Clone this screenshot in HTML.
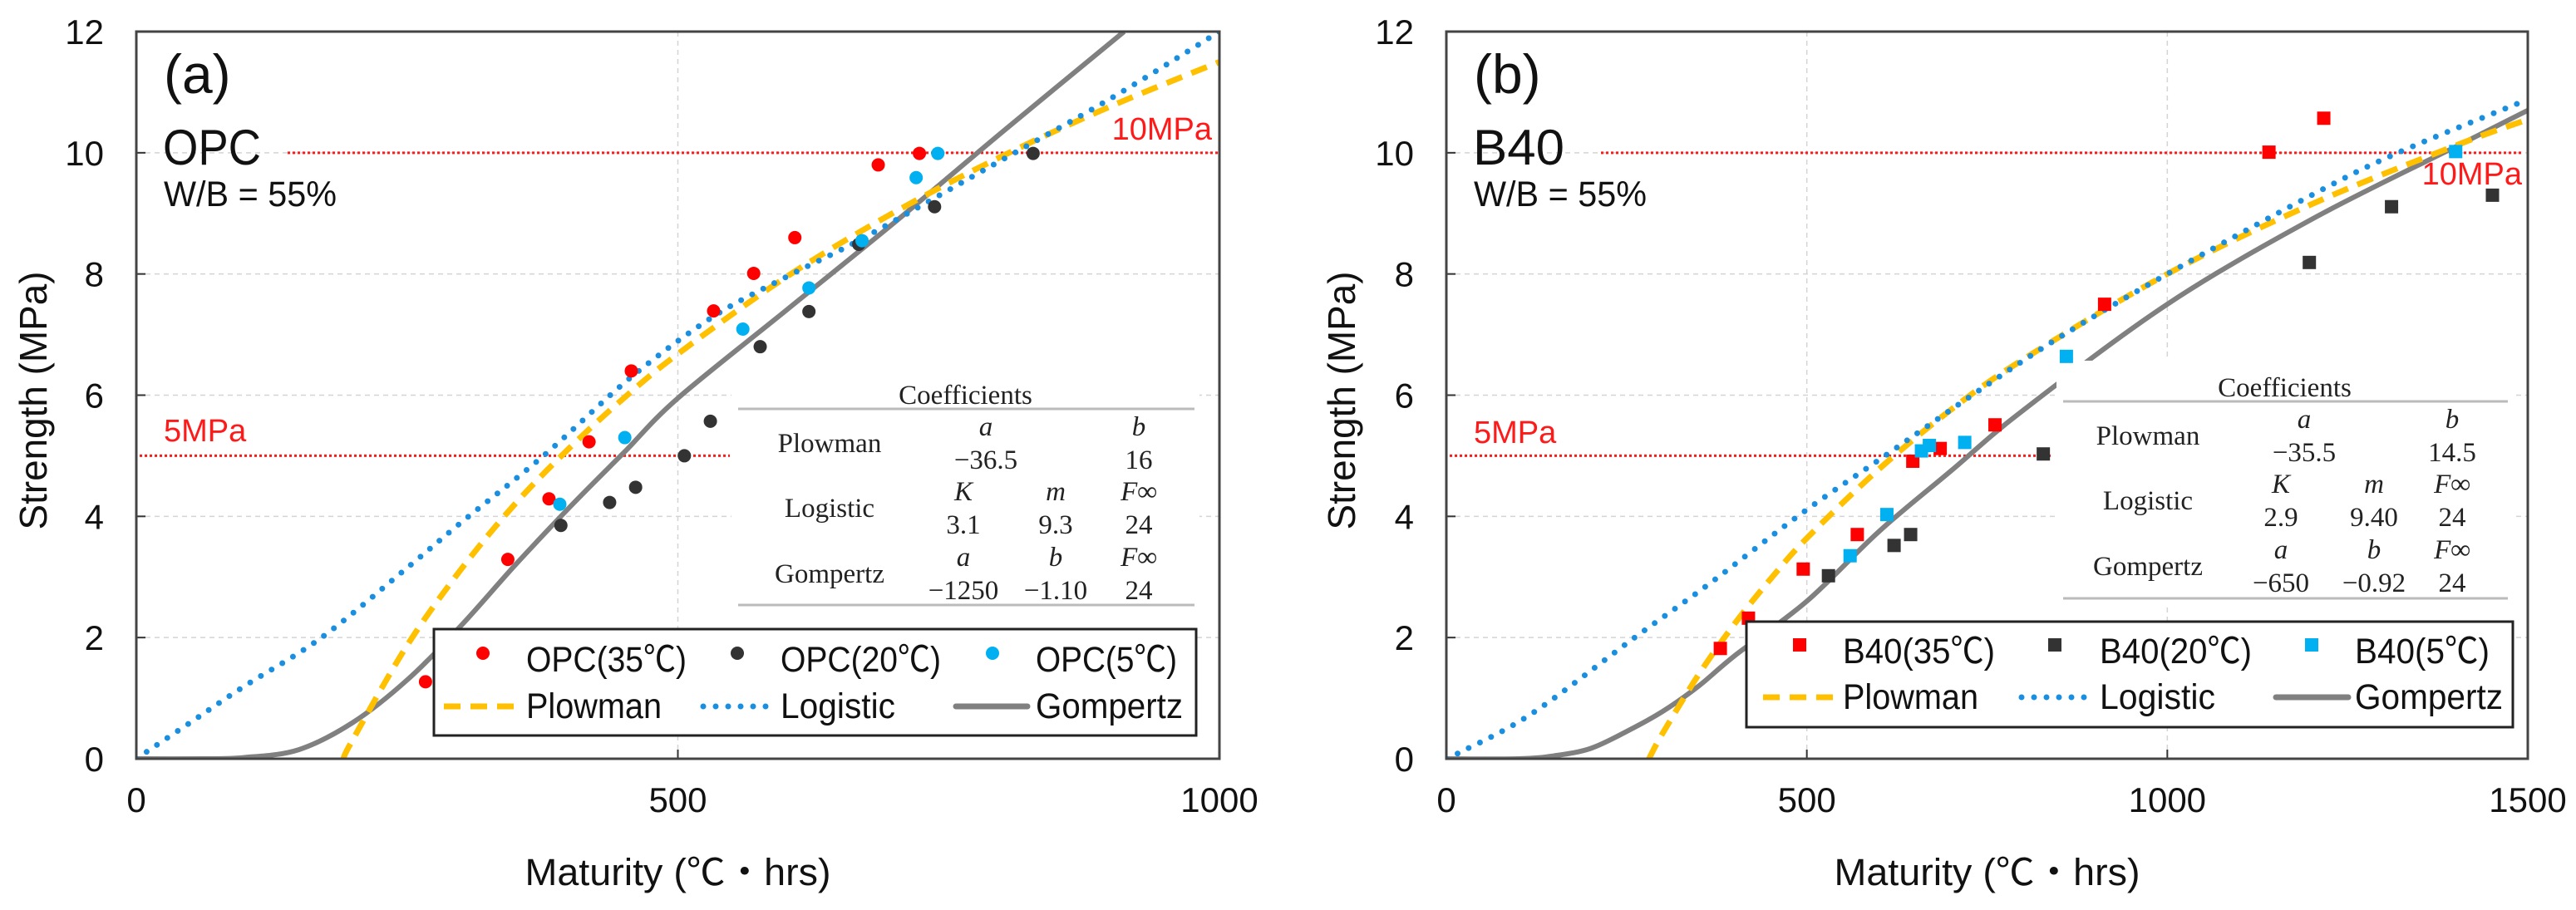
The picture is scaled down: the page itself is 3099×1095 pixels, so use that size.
<!DOCTYPE html>
<html><head><meta charset="utf-8"><title>Strength vs Maturity</title>
<style>
html,body{margin:0;padding:0;background:#fff;}
svg{display:block;}
text{font-family:"Liberation Sans","Noto Sans CJK KR",sans-serif;}
.serif{font-family:"Liberation Serif","Noto Serif CJK SC",serif;}
</style></head>
<body>
<svg id="fig" xmlns="http://www.w3.org/2000/svg" width="3099" height="1095" viewBox="0 0 3099 1095"></svg>
<script>
// ---------- Panel (a) OPC data ----------
const aRed35M = [267,343,381,418,457,533,570,608,685,723];
const aRed35S = [1.27,3.29,4.29,5.23,6.40,7.39,8.01,8.60,9.80,9.99];
const aBlk20M = [392,437,461,506,530,576,621,667,737,828];
const aBlk20S = [3.85,4.23,4.48,5.00,5.57,6.80,7.38,8.49,9.11,9.99];
const aBlu5M = [391,451,560,621,670,720,740];
const aBlu5S = [4.20,5.30,7.09,7.77,8.55,9.59,9.99];
const aPlowM = [191,200,250,300,350,400,450,500,600,700,800,900,1000];
const aPlowS = [0,0.32,1.87,3.13,4.21,5.13,5.95,6.68,7.95,9.02,9.95,10.77,11.5];
const aLogM = [0,50,100,171,250,300,376,457,533,600,672,786,900,1000];
const aLogS = [0,0.6,1.2,2.0,3.15,3.9,5.0,6.3,7.3,7.95,8.6,9.75,10.9,12.0];
const aGomM = [0,60,100,150,200,250,300,350,400,450,500,600,700,800,912];
const aGomS = [0,0,0.02,0.15,0.6,1.3,2.2,3.2,4.15,5.05,5.95,7.4,8.85,10.35,12.0];
// ---------- Panel (b) B40 data ----------
const bRed35M = [380,419,495,570,647,685,761,913,1141,1217];
const bRed35S = [1.82,2.32,3.13,3.70,4.91,5.12,5.51,7.50,10.01,10.57];
const bBlk20M = [530,621,644,828,1197,1311,1451];
const bBlk20S = [3.02,3.52,3.70,5.03,8.19,9.11,9.30];
const bBlu5M = [560,611,659,670,719,860,1400];
const bBlu5S = [3.35,4.03,5.08,5.17,5.22,6.64,10.02];
const bPlowM = [281,300,350,400,450,500,600,700,800,1000,1200,1400,1500];
const bPlowS = [0,0.42,1.39,2.23,2.97,3.64,4.78,5.76,6.59,8.0,9.15,10.12,10.55];
const bLogM = [0,18,118,259,365,494,606,733,850,1000,1200,1320,1500];
const bLogS = [0,0.1,0.74,1.98,2.89,4.06,4.98,6.03,6.95,8.0,9.3,10.0,10.88];
const bGomM = [0,100,150,200,250,300,350,400,500,600,700,800,1000,1200,1400,1500];
const bGomS = [0,0,0.05,0.17,0.45,0.78,1.2,1.7,2.6,3.75,4.75,5.75,7.5,8.9,10.1,10.7];
// ---------- tick labels ----------
const yTicks = [0,2,4,6,8,10,12];
const aXTicks = [0,500,1000];
const bXTicks = [0,500,1000,1500];
const aCoef = {plow:["−36.5","16"], log:["3.1","9.3","24"], gom:["−1250","−1.10","24"]};
const bCoef = {plow:["−35.5","14.5"], log:["2.9","9.40","24"], gom:["−650","−0.92","24"]};

const NS = "http://www.w3.org/2000/svg";
const svg = document.getElementById('fig');
function mk(tag, attrs, parent){
  const e = document.createElementNS(NS, tag);
  for (const k in attrs) e.setAttribute(k, attrs[k]);
  (parent||svg).appendChild(e);
  return e;
}
function txt(str, attrs, parent){ const t = mk('text', attrs, parent); t.textContent = str; return t; }
function smooth(pts){
  let d = 'M'+pts[0][0].toFixed(1)+','+pts[0][1].toFixed(1);
  for (let i=0;i<pts.length-1;i++){
    const p0 = pts[Math.max(i-1,0)], p1 = pts[i], p2 = pts[i+1], p3 = pts[Math.min(i+2,pts.length-1)];
    const c1x = p1[0]+(p2[0]-p0[0])/6, c1y = p1[1]+(p2[1]-p0[1])/6;
    const c2x = p2[0]-(p3[0]-p1[0])/6, c2y = p2[1]-(p3[1]-p1[1])/6;
    d += ` C${c1x.toFixed(1)},${c1y.toFixed(1)} ${c2x.toFixed(1)},${c2y.toFixed(1)} ${p2[0].toFixed(1)},${p2[1].toFixed(1)}`;
  }
  return d;
}

function panel(cfg){
  const g = mk('g', {});
  
  
  const L=cfg.left, R=cfg.right, T=38, B=913;
  const X = m => L + (m/cfg.xmax)*(R-L);
  const Y = s => B - (s/12)*(B-T);
  const grid = mk('g', {stroke:'#d4d4d4','stroke-width':1.5,'stroke-dasharray':'6 5'}, g);
  
  
  yTicks.slice(1,-1).forEach(v=>{ mk('line',{x1:L,x2:R,y1:Y(v),y2:Y(v)},grid); });
  cfg.xticks.slice(1,-1).forEach(v=>{ mk('line',{x1:X(v),x2:X(v),y1:T,y2:B},grid); });
  yTicks.forEach(v=>{
    const t = txt(String(v), {x:L-39, y:Y(v)+15, 'font-size':42, 'text-anchor':'end', fill:'#111'}, g);
    
    
    mk('line',{x1:L,x2:L+11,y1:Y(v),y2:Y(v),stroke:'#333','stroke-width':2},g);
  });
  cfg.xticks.forEach(v=>{
    const t = txt(String(v), {x:X(v), y:977, 'font-size':42, 'text-anchor':'middle', fill:'#111'}, g);
    
    
    mk('line',{x1:X(v),x2:X(v),y1:B,y2:B-11,stroke:'#333','stroke-width':2},g);
  });
  const xt = txt('Maturity (℃・hrs)', {x:(L+R)/2, y:1065, 'font-size':45, 'text-anchor':'middle', fill:'#111', textLength:368, lengthAdjust:'spacingAndGlyphs'}, g);
  
  
  const yc = cfg.ytitleX;
  const yt = txt('Strength (MPa)', {x:0, y:0, 'font-size':46, 'text-anchor':'middle', fill:'#111', textLength:311, lengthAdjust:'spacingAndGlyphs', transform:`translate(${yc+16},482) rotate(-90)`}, g);
  
  
  const r10 = mk('line',{x1:cfg.r10x1,x2:cfg.r10x2,y1:Y(10),y2:Y(10),stroke:'#ff1a1a','stroke-width':3,'stroke-dasharray':'3 3'},g);
  
  
  const r5 = mk('line',{x1:L+4,x2:cfg.r5x2,y1:Y(5),y2:Y(5),stroke:'#ff1a1a','stroke-width':3,'stroke-dasharray':'3 3'},g);
  
  
  const l10 = txt('10MPa', {x:cfg.l10x, y:cfg.l10y, 'font-size':38, 'text-anchor':'end', fill:'#ff1a1a'}, g);
  
  
  const l5 = txt('5MPa', {x:L+33, y:cfg.l5y, 'font-size':38, fill:'#ff1a1a'}, g);
  
  
  const clipId = 'clip-'+cfg.id;
  const cp = mk('clipPath',{id:clipId},g);
  mk('rect',{x:L,y:T,width:R-L,height:B-T},cp);
  const path = (M,S) => smooth(M.map((m,i)=>[X(m),Y(S[i])]));
  const gom = mk('path',{d:path(cfg.gomM,cfg.gomS),fill:'none',stroke:'#808080','stroke-width':6,'stroke-linejoin':'round','clip-path':`url(#${clipId})`},g);
  
  
  const plo = mk('path',{d:path(cfg.plowM,cfg.plowS),fill:'none',stroke:'#ffc000','stroke-width':7,'stroke-dasharray':'20 12','clip-path':`url(#${clipId})`},g);
  
  
  const lgc = mk('path',{d:path(cfg.logM,cfg.logS),fill:'none',stroke:'#1a8fe0','stroke-width':7,'stroke-dasharray':'0 15','stroke-linecap':'round','clip-path':`url(#${clipId})`},g);
  
  
  const tb = cfg.tab;
  const tg = mk('g',{},g);
  
  
  mk('rect',{x:tb.x1,y:tb.top,width:tb.x2-tb.x1,height:tb.bot-tb.top,fill:'#fff'},tg);
  const cell = (s,x,y,it) => txt(s,{x:x,y:y,'font-size':33,'text-anchor':'middle',fill:'#222','class':'serif','font-style':it?'italic':'normal'},tg);
  cell('Coefficients', (tb.x1+tb.x2)/2, tb.titleY);
  mk('line',{x1:tb.x1+8,x2:tb.x2-6,y1:tb.titleY+6,y2:tb.titleY+6,stroke:'#bbb','stroke-width':3},tg);
  mk('line',{x1:tb.x1+8,x2:tb.x2-6,y1:tb.bottomLine,y2:tb.bottomLine,stroke:'#bbb','stroke-width':3},tg);
  const r0 = tb.titleY + 38;
  cell('Plowman', tb.lab, r0+20); cell('a', tb.c2a, r0, true); cell('b', tb.c3, r0, true);
  cell(cfg.coef.plow[0], tb.c2a, r0+40); cell(cfg.coef.plow[1], tb.c3, r0+40);
  const r1 = r0 + 78;
  cell('Logistic', tb.lab, r1+20); cell('K', tb.c1, r1, true); cell('m', tb.c2, r1, true); cell('F∞', tb.c3, r1, true);
  cell(cfg.coef.log[0], tb.c1, r1+40); cell(cfg.coef.log[1], tb.c2, r1+40); cell(cfg.coef.log[2], tb.c3, r1+40);
  const r2 = r1 + 79;
  cell('Gompertz', tb.lab, r2+20); cell('a', tb.c1, r2, true); cell('b', tb.c2, r2, true); cell('F∞', tb.c3, r2, true);
  cell(cfg.coef.gom[0], tb.c1, r2+40); cell(cfg.coef.gom[1], tb.c2, r2+40); cell(cfg.coef.gom[2], tb.c3, r2+40);
  const series = [[cfg.redM,cfg.redS,'#ff0000','35'],[cfg.blkM,cfg.blkS,'#333333','20'],[cfg.bluM,cfg.bluS,'#00b0f0','5']];
  series.forEach(([M,S,col,tag])=>{
    const sg = mk('g',{fill:col},g);
    
    
    M.forEach((m,i)=>{
      let e;
      if (cfg.square) e = mk('rect',{x:X(m)-8,y:Y(S[i])-8,width:16,height:16},sg);
      else e = mk('circle',{cx:X(m),cy:Y(S[i]),r:8},sg);
      
      
    });
  });
  const fr = mk('rect',{x:L,y:T,width:R-L,height:B-T,fill:'none',stroke:'#444','stroke-width':3},g);
  
  
  const pl = txt(cfg.tag, {x:L+33, y:112, 'font-size':66, fill:'#111'}, g);
  
  
  const nm = txt(cfg.name, {x:L+32, y:198, 'font-size':60, fill:'#111', textLength:cfg.nameW, lengthAdjust:'spacingAndGlyphs'}, g);
  
  
  const wb = txt('W/B = 55%', {x:L+33, y:248, 'font-size':43, fill:'#111', textLength:208, lengthAdjust:'spacingAndGlyphs'}, g);
  
  
  const lg = cfg.leg;
  const legG = mk('g',{},g);
  
  
  mk('rect',{x:lg.x1,y:lg.y1,width:lg.x2-lg.x1,height:lg.y2-lg.y1,fill:'#fff',stroke:'#222','stroke-width':3},legG);
  const cols = [['#ff0000',cfg.name+'(35℃)'],['#333333',cfg.name+'(20℃)'],['#00b0f0',cfg.name+'(5℃)']];
  cols.forEach(([col,lab],i)=>{
    const mx = lg.mx[i];
    let e;
    if (cfg.square) e = mk('rect',{x:mx-8,y:lg.r1-30,width:16,height:16,fill:col},legG);
    else e = mk('circle',{cx:mx,cy:lg.r1-22,r:8,fill:col},legG);
    
    
    const t = txt(lab,{x:lg.tx[i],y:lg.r1,'font-size':43,fill:'#111',textLength:lg.w1[i],lengthAdjust:'spacingAndGlyphs'},legG);
    
    
  });
  const styles = [{stroke:'#ffc000','stroke-width':7,'stroke-dasharray':'20 12'},{stroke:'#1a8fe0','stroke-width':7,'stroke-dasharray':'0 15','stroke-linecap':'round'},{stroke:'#808080','stroke-width':7,'stroke-linecap':'round'}];
  ['Plowman','Logistic','Gompertz'].forEach((lab,i)=>{
    const st = Object.assign({x1:lg.lx[i][0],x2:lg.lx[i][1],y1:lg.r2-14,y2:lg.r2-14},styles[i]);
    const ln = mk('line',st,legG);
    
    
    const t = txt(lab,{x:lg.tx[i],y:lg.r2,'font-size':43,fill:'#111',textLength:lg.w2[i],lengthAdjust:'spacingAndGlyphs'},legG);
    
    
  });
}

panel({id:'a', tag:'(a)', name:'OPC', nameW:118, left:164, right:1467, xmax:1000, xticks:aXTicks, ytitleX:40,
  r10x1:346, r10x2:1465, l10x:1458, l10y:168, r5x2:878, l5y:531,
  redM:aRed35M, redS:aRed35S, blkM:aBlk20M, blkS:aBlk20S, bluM:aBlu5M, bluS:aBlu5S,
  plowM:aPlowM, plowS:aPlowS, logM:aLogM, logS:aLogS, gomM:aGomM, gomS:aGomS, square:false,
  coef:aCoef,
  tab:{x1:880, x2:1443, top:452, bot:736, titleY:486, bottomLine:728, lab:998, c1:1159, c2:1270, c2a:1186, c3:1370},
  leg:{x1:522, x2:1439, y1:757, y2:885, r1:808, r2:864, mx:[581,887,1194], tx:[633,939,1246], w1:[193,193,170], w2:[163,138,177], lx:[[534,626],[846,930],[1150,1236]]}
});
panel({id:'b', tag:'(b)', name:'B40', nameW:110, left:1740, right:3041, xmax:1500, xticks:bXTicks, ytitleX:1614,
  r10x1:1926, r10x2:3036, l10x:3034, l10y:222, r5x2:2469, l5y:533,
  redM:bRed35M, redS:bRed35S, blkM:bBlk20M, blkS:bBlk20S, bluM:bBlu5M, bluS:bBlu5S,
  plowM:bPlowM, plowS:bPlowS, logM:bLogM, logS:bLogS, gomM:bGomM, gomS:bGomS, square:true,
  coef:bCoef,
  tab:{x1:2474, x2:3023, top:434, bot:726, titleY:477, bottomLine:720, lab:2584, c1:2744, c2:2856, c2a:2772, c3:2950},
  leg:{x1:2101, x2:3023, y1:748, y2:875, r1:798, r2:853, mx:[2165,2472,2781], tx:[2217,2526,2833], w1:[183,183,162], w2:[163,139,178], lx:[[2121,2210],[2432,2515],[2738,2825]]}
});
</script>
</body></html>
